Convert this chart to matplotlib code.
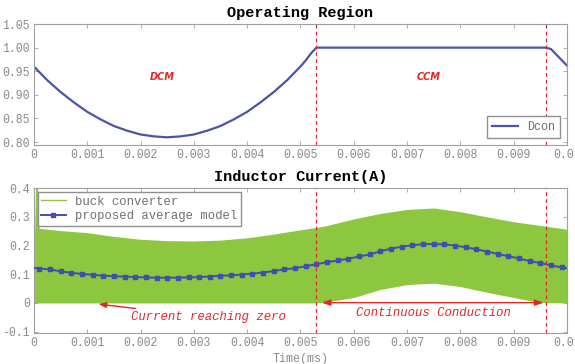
import numpy as np
import matplotlib
matplotlib.use("Agg")
import matplotlib.pyplot as plt

plt.rcParams['font.family'] = ['Liberation Mono', 'DejaVu Sans Mono']

# 上のグラフ: Dcon (動作領域)
dcon_t = [0, 0.00025, 0.0005, 0.00075, 0.001, 0.00125, 0.0015, 0.00175, 0.002, 0.00225,
          0.0025, 0.00275, 0.003, 0.00325, 0.0035, 0.00375, 0.004, 0.00425, 0.0045, 0.00475,
          0.005, 0.0051, 0.0052, 0.0053, 0.0096, 0.0097, 0.01]
dcon = [0.960, 0.931, 0.906, 0.884, 0.864, 0.848, 0.834, 0.824, 0.816, 0.812,
        0.810, 0.812, 0.816, 0.824, 0.834, 0.848, 0.864, 0.884, 0.906, 0.931,
        0.960, 0.973, 0.988, 1.000, 1.000, 0.997, 0.962]

# 下のグラフ: バックコンバータの電流 (上下の包絡線)
env_t = [0, 0.00003, 0.00007, 0.0001, 0.0005, 0.001, 0.0015, 0.002, 0.0025, 0.003,
         0.0035, 0.004, 0.0045, 0.005, 0.0053, 0.0055, 0.006, 0.0065, 0.007, 0.0075,
         0.008, 0.0085, 0.009, 0.0095, 0.01]
env_hi = [0.12, 0.40, 0.40, 0.26, 0.252, 0.245, 0.232, 0.222, 0.217, 0.216,
          0.219, 0.227, 0.240, 0.255, 0.263, 0.270, 0.293, 0.312, 0.326, 0.331,
          0.318, 0.300, 0.283, 0.270, 0.257]
env_lo = [0, 0, 0, 0, 0, 0, 0, 0, 0, 0,
          0, 0, 0, 0, 0, 0.004, 0.019, 0.047, 0.064, 0.069,
          0.057, 0.037, 0.019, 0.001, 0]

# 平均モデル (0.0002ごと)
avg_t = [0] + list(np.arange(50) * 0.0002 + 0.0001) + [0.01]
avg = [0.122,
       0.120, 0.117, 0.110, 0.105, 0.101, 0.098, 0.095, 0.093, 0.092, 0.090,
       0.089, 0.088, 0.088, 0.088, 0.089, 0.090, 0.092, 0.095, 0.096, 0.099,
       0.102, 0.106, 0.111, 0.117, 0.121, 0.128, 0.135, 0.142, 0.148, 0.154,
       0.162, 0.169, 0.180, 0.189, 0.196, 0.201, 0.205, 0.205, 0.204, 0.200,
       0.194, 0.187, 0.179, 0.171, 0.163, 0.155, 0.146, 0.139, 0.131, 0.124,
       0.121]

boundaries = [0.0053, 0.0096]
xticks = [0, 0.001, 0.002, 0.003, 0.004, 0.005, 0.006, 0.007, 0.008, 0.009, 0.01]
xtick_labels = ["0", "0.001", "0.002", "0.003", "0.004", "0.005", "0.006", "0.007", "0.008", "0.009", "0.01"]

gray = '#8a8a8a'
red = '#e02828'

fig = plt.figure(figsize=(5.75, 3.64), dpi=100)
ax1 = fig.add_axes([0.059, 0.602, 0.927, 0.332])
ax2 = fig.add_axes([0.059, 0.085, 0.927, 0.398])

for ax in (ax1, ax2):
    for s in ax.spines.values():
        s.set_color('#a0a0a0')
        s.set_linewidth(0.8)
    ax.tick_params(direction='in', top=True, right=True, length=3, width=0.6,
                   color='#a0a0a0', labelcolor=gray, labelsize=8.3, pad=3)
    ax.set_xlim(0, 0.01)
    ax.set_xticks(xticks)
    ax.set_xticklabels(xtick_labels)
    for b in boundaries:
        ax.axvline(b, color=red, ls=(0, (3, 2.5)), lw=0.9, zorder=5)

# 上のグラフ
ax1.plot(dcon_t, dcon, color='#4a55a8', lw=1.6, label='Dcon')
ax1.set_ylim(0.794, 1.05)
ax1.set_yticks([0.80, 0.85, 0.90, 0.95, 1.00, 1.05])
ax1.set_yticklabels(["0.80", "0.85", "0.90", "0.95", "1.00", "1.05"])
ax1.set_title("Operating Region", fontsize=11, fontweight='bold', pad=5)
ax1.text(0.0024, 0.937, "DCM", color=red, fontsize=7, fontstyle='italic',
         fontweight='bold', family='DejaVu Sans', ha='center', va='center')
ax1.text(0.0074, 0.937, "CCM", color=red, fontsize=7, fontstyle='italic',
         fontweight='bold', family='DejaVu Sans', ha='center', va='center')
leg1 = ax1.legend(loc='lower right', fontsize=8.5, handlelength=2.2, borderaxespad=0.6,
                  fancybox=False, framealpha=1)
leg1.get_frame().set_edgecolor('#909090')
for t in leg1.get_texts():
    t.set_color('#707070')

# 下のグラフ
ax2.fill_between(env_t, env_lo, env_hi, color='#8dc63f', lw=0, zorder=2)
ax2.plot([], [], color='#8dc63f', lw=1, label='buck converter')
ax2.plot(avg_t, avg, color='#3f4fb0', lw=1.4, marker='s', markersize=2.6,
         markevery=slice(1, 51), label='proposed average model', zorder=4)
ax2.set_ylim(-0.105, 0.4)
ax2.set_yticks([-0.1, 0, 0.1, 0.2, 0.3, 0.4])
ax2.set_yticklabels(["-0.1", "0", "0.1", "0.2", "0.3", "0.4"])
ax2.set_title("Inductor Current(A)", fontsize=11, fontweight='bold', pad=5)
ax2.set_xlabel("Time(ms)", color=gray, fontsize=8.5, labelpad=3)

ax2.annotate("Current reaching zero", xy=(0.00121, -0.004), xytext=(0.00183, -0.05),
             color=red, fontsize=8.8, fontstyle='italic', ha='left', va='center',
             arrowprops=dict(arrowstyle='-|>,head_length=0.5,head_width=0.18', color=red,
                             lw=1, shrinkA=0, shrinkB=0))
ax2.annotate("", xy=(0.0054, 0.001), xytext=(0.00956, 0.001),
             arrowprops=dict(arrowstyle='<|-|>,head_length=0.5,head_width=0.18', color=red,
                             lw=1, shrinkA=0, shrinkB=0))
ax2.text(0.0075, -0.035, "Continuous Conduction", color=red, fontsize=8.8,
         fontstyle='italic', ha='center', va='center')

leg2 = ax2.legend(loc='upper left', fontsize=8.8, handlelength=2.0, borderaxespad=0.3,
                  fancybox=False, framealpha=1, labelspacing=0.2, borderpad=0.3)
leg2.get_frame().set_edgecolor('#909090')
for t in leg2.get_texts():
    t.set_color('#707070')

fig.savefig("out.png", dpi=100)
